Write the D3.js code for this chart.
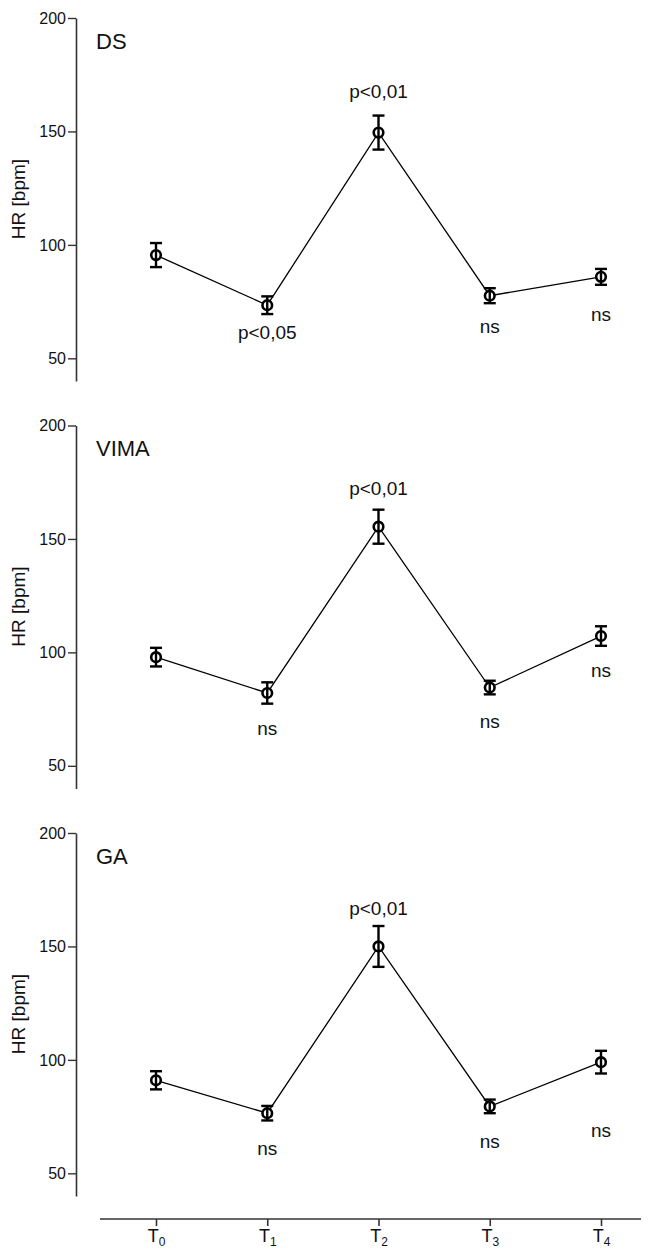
<!DOCTYPE html>
<html>
<head>
<meta charset="utf-8">
<script src="https://cdn.jsdelivr.net/npm/d3@7"></script>
<style>
  body { margin: 0; background: #fff; }
  svg { display: block; font-family: "Liberation Sans", Arial, sans-serif; }
</style>
</head>
<body>
<svg width="652" height="1249"></svg>
<script>
"use strict";

// time points (x axis)
const TIMES = ["0", "1", "2", "3", "4"];

// panel names
const GROUPS = ["DS", "VIMA", "GA"];

// mean HR per time point, one array per group
const meanDS   = [95.5, 73.4, 149.5, 77.6, 85.9];
const meanVIMA = [97.9, 82.1, 155.4, 84.5, 107.2];
const meanGA   = [91.0, 76.5, 150.0, 79.5, 99.0];

// error bar half-lengths
const errDS   = [5.3, 3.9, 7.5, 3.3, 3.5];
const errVIMA = [4.1, 4.7, 7.5, 3.0, 4.3];
const errGA   = [4.0, 3.2, 9.0, 3.0, 5.0];

// significance labels and where they sit (HR units, baseline)
const notesDS   = [null, "p<0,05", "p<0,01", "ns", "ns"];
const notesVIMA = [null, "ns", "p<0,01", "ns", "ns"];
const notesGA   = [null, "ns", "p<0,01", "ns", "ns"];
const noteYDS   = [null, 58.5, 164.6, 61.2, 66.5];
const noteYVIMA = [null, 63.7, 169.5, 66.8, 89.3];
const noteYGA   = [null, 58.1, 163.9, 61.2, 66.1];

const Y_TICKS = [50, 100, 150, 200];

const means = [meanDS, meanVIMA, meanGA];
const errs = [errDS, errVIMA, errGA];
const notes = [notesDS, notesVIMA, notesGA];
const noteYs = [noteYDS, noteYVIMA, noteYGA];

const svg = d3.select("svg");
const axisX = 76,
    panelTop = 18,
    panelStep = 407.5,
    panelH = 363; // 200 -> 40
const axisColor = "#333";

const x = d3.scalePoint()
    .domain(TIMES)
    .range([156, 601]);

GROUPS.forEach((name, gi) => {
    const top = panelTop + gi * panelStep;
    const y = d3.scaleLinear()
        .domain([40, 200])
        .range([top + panelH, top]);

    const g = svg.append("g");

    const yAxis = g.append("g")
        .attr("transform", `translate(${axisX},0)`)
        .call(d3.axisLeft(y).tickValues(Y_TICKS).tickSize(8).tickSizeOuter(0).tickPadding(2));
    yAxis.select(".domain").attr("stroke", axisColor).attr("stroke-width", 1.6);
    yAxis.selectAll(".tick line").attr("stroke", axisColor).attr("stroke-width", 1.4);
    yAxis.selectAll(".tick text")
        .attr("font-size", 16)
        .attr("fill", "#111")
        .attr("font-family", "Liberation Sans, Arial, sans-serif");

    g.append("text")
        .attr("transform", `translate(25 ${top + 181}) rotate(-90)`)
        .attr("text-anchor", "middle")
        .attr("font-size", 19)
        .attr("fill", "#111")
        .text("HR [bpm]");

    g.append("text")
        .attr("x", 96)
        .attr("y", top + 30.5)
        .attr("font-size", 22)
        .attr("fill", "#111")
        .text(name);

    const pts = TIMES.map((t, i) => ({ t, m: means[gi][i], e: errs[gi][i], note: notes[gi][i], ny: noteYs[gi][i] }));

    g.append("path")
        .datum(pts)
        .attr("fill", "none")
        .attr("stroke", "#000")
        .attr("stroke-width", 1.3)
        .attr("d", d3.line().x(d => x(d.t)).y(d => y(d.m)));

    g.selectAll("circle")
        .data(pts)
        .join("circle")
        .attr("cx", d => x(d.t))
        .attr("cy", d => y(d.m))
        .attr("r", 4.8)
        .attr("fill", "#fff")
        .attr("stroke", "#000")
        .attr("stroke-width", 2.6);

    const bars = g.selectAll(".err")
        .data(pts)
        .join("g")
        .attr("class", "err")
        .attr("stroke", "#000")
        .attr("stroke-width", 2.4);
    bars.append("line")
        .attr("x1", d => x(d.t)).attr("x2", d => x(d.t))
        .attr("y1", d => y(d.m + d.e)).attr("y2", d => y(d.m - d.e));
    bars.append("line")
        .attr("x1", d => x(d.t) - 6).attr("x2", d => x(d.t) + 6)
        .attr("y1", d => y(d.m + d.e)).attr("y2", d => y(d.m + d.e));
    bars.append("line")
        .attr("x1", d => x(d.t) - 6).attr("x2", d => x(d.t) + 6)
        .attr("y1", d => y(d.m - d.e)).attr("y2", d => y(d.m - d.e));

    g.selectAll(".note")
        .data(pts.filter(d => d.note))
        .join("text")
        .attr("class", "note")
        .attr("x", d => x(d.t))
        .attr("y", d => y(d.ny))
        .attr("text-anchor", "middle")
        .attr("font-size", 19)
        .attr("fill", "#111")
        .text(d => d.note);
});

// shared time axis at the bottom
const xAxisY = 1219;
const xAxis = svg.append("g")
    .attr("transform", `translate(0,${xAxisY})`)
    .call(d3.axisBottom(x).tickSize(7).tickSizeOuter(0).tickFormat(""));
xAxis.select(".domain").remove();
xAxis.selectAll(".tick line").attr("stroke", axisColor).attr("stroke-width", 1.6);
xAxis.append("line")
    .attr("x1", 100).attr("x2", 641)
    .attr("y1", 0).attr("y2", 0)
    .attr("stroke", axisColor)
    .attr("stroke-width", 1.6);

const tl = xAxis.selectAll(".tick")
    .append("text")
    .attr("y", 23)
    .attr("text-anchor", "middle")
    .attr("fill", "#111")
    .attr("font-size", 18)
    .attr("font-family", "Liberation Sans, Arial, sans-serif");
tl.append("tspan").text("T");
tl.append("tspan")
    .attr("font-size", 12)
    .attr("dy", 4)
    .text(d => d);
</script>
</body>
</html>
